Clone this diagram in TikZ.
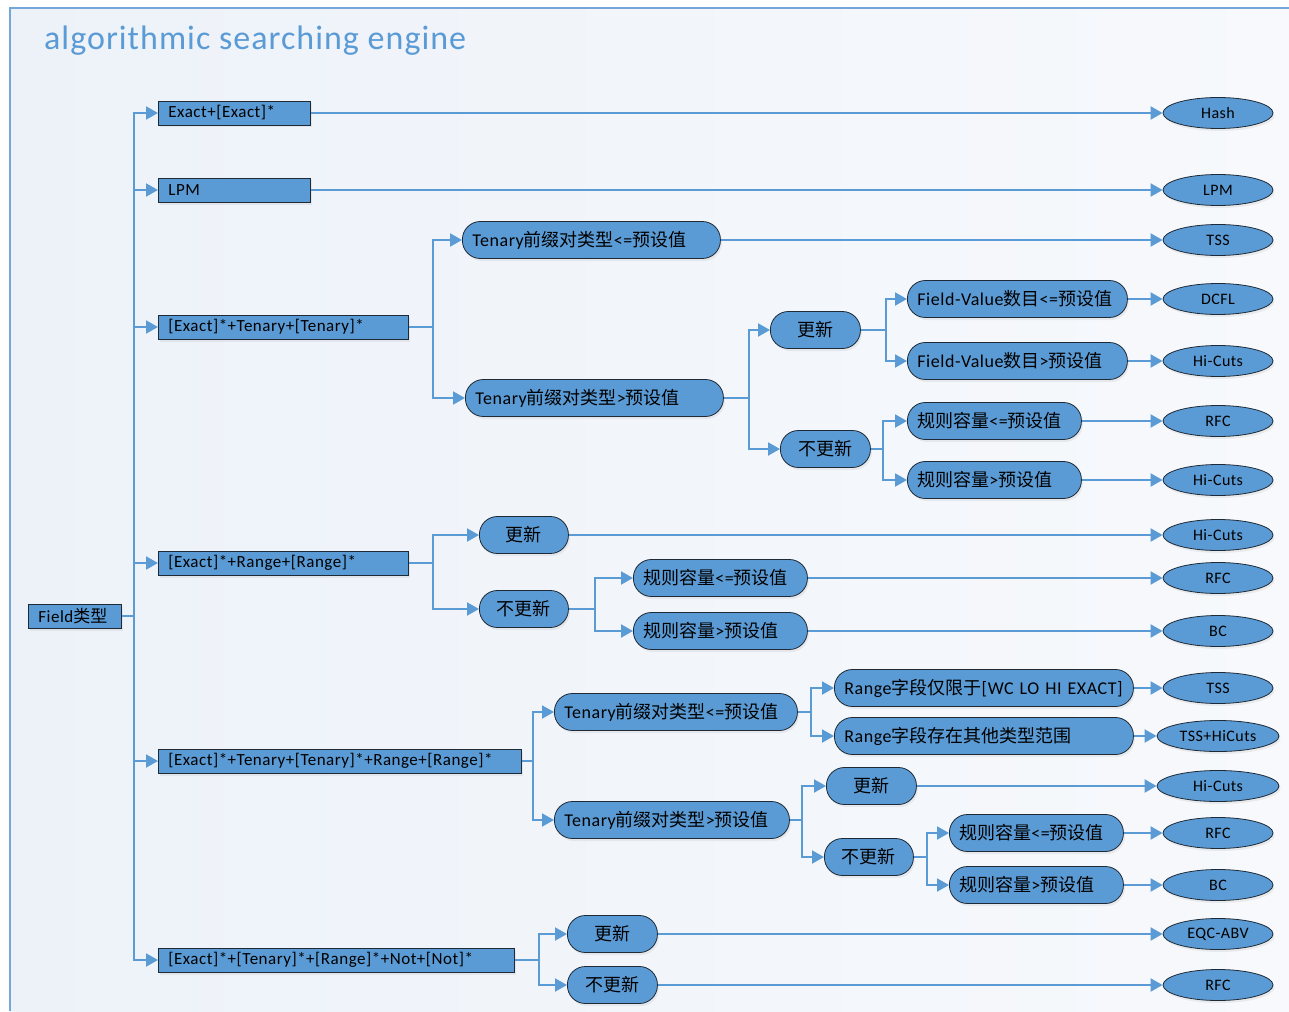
\documentclass[tikz,border=0pt]{standalone}
\usepackage{fontspec}
\setmainfont{Carlito}[LetterSpace=3]
\newfontfamily\cjk{Noto Sans CJK SC}
\usetikzlibrary{arrows.meta,shapes.geometric,shadows}
\definecolor{flow}{HTML}{5B9BD5}
\definecolor{edge}{HTML}{1E2A36}
\definecolor{frameline}{HTML}{74A6D9}
\definecolor{panelL}{HTML}{EDF2F9}
\definecolor{panelR}{HTML}{F7F9FC}
\newcommand\rfont{\fontsize{17}{20}\selectfont}
\newcommand\pfont{\fontsize{18}{21}\selectfont}
\newcommand\efont{\fontsize{16}{19}\selectfont}
\tikzset{
  softshadow/.style={drop shadow={opacity=0.12,shadow xshift=1.5pt,shadow yshift=-2.5pt}},
  rectbox/.style={draw=edge, fill=flow, line width=0.8pt, minimum height=24pt,
    inner xsep=10pt, inner ysep=0pt, align=left, anchor=west, font=\rfont, softshadow},
  pill/.style={draw=edge, fill=flow, line width=0.8pt, rounded corners=18pt,
    minimum height=37pt, inner xsep=10pt, inner ysep=0pt, align=left, anchor=west,
    font=\pfont, softshadow},
  cpill/.style={pill, align=center},
  oval/.style={ellipse, draw=edge, fill=flow, line width=0.8pt, minimum width=110pt,
    minimum height=31pt, inner sep=0pt, font=\efont, softshadow},
  link/.style={draw=flow, line width=2pt, -{Triangle[length=12pt,width=13pt]}},
}
\begin{document}
\begin{tikzpicture}[x=1pt,y=-1pt]
\useasboundingbox (0,0) rectangle (1289,1011);
% backdrop panel
\fill[white] (0,0) rectangle (1289,1011);
\fill[left color=panelL, right color=panelR] (10,8) rectangle (1289,1011);
\draw[frameline, line width=1.5pt] (10,1011) -- (10,8) -- (1289,8);
\node[anchor=base west, inner sep=0pt, text=flow, font=\fontsize{34}{38}\selectfont] (title) at (44,50) {algorithmic searching engine};

% root
\node[rectbox, text width=73pt] (r0) at (28,616) {Field{\cjk 类型}};

% first level
\node[rectbox, text width=132pt] (a1) at (158,113) {Exact+[Exact]*};
\node[rectbox, text width=132pt] (a2) at (158,190) {LPM};
\node[rectbox, text width=230pt] (a3) at (158,327) {[Exact]*+Tenary+[Tenary]*};
\node[rectbox, text width=230pt] (a4) at (158,563) {[Exact]*+Range+[Range]*};
\node[rectbox, text width=343pt] (a5) at (158,761) {[Exact]*+Tenary+[Tenary]*+Range+[Range]*};
\node[rectbox, text width=336pt] (a6) at (158,960) {[Exact]*+[Tenary]*+[Range]*+Not+[Not]*};

% Tenary branch
\node[pill, text width=238pt] (b1) at (462,240) {Tenary{\cjk 前缀对类型}<={\cjk 预设值}};
\node[pill, text width=238pt] (b2) at (465,398) {Tenary{\cjk 前缀对类型}>{\cjk 预设值}};
\node[cpill, text width=70pt] (b3) at (770,330) {\cjk 更新};
\node[cpill, text width=70pt] (b4) at (780,449) {\cjk 不更新};
\node[pill, text width=200pt] (b5) at (907,299) {Field-Value{\cjk 数目}<={\cjk 预设值}};
\node[pill, text width=200pt] (b6) at (907,361) {Field-Value{\cjk 数目}>{\cjk 预设值}};
\node[pill, text width=154pt] (b7) at (907,421) {{\cjk 规则容量}<={\cjk 预设值}};
\node[pill, text width=154pt] (b8) at (907,480) {{\cjk 规则容量}>{\cjk 预设值}};

% Range branch
\node[cpill, text width=69pt] (c1) at (479,535) {\cjk 更新};
\node[cpill, text width=69pt] (c2) at (479,609) {\cjk 不更新};
\node[pill, text width=154pt] (c3) at (633,578) {{\cjk 规则容量}<={\cjk 预设值}};
\node[pill, text width=154pt] (c4) at (633,631) {{\cjk 规则容量}>{\cjk 预设值}};

% Tenary + Range branch
\node[pill, text width=223pt] (d1) at (554,712) {Tenary{\cjk 前缀对类型}<={\cjk 预设值}};
\node[pill, text width=215pt] (d2) at (554,820) {Tenary{\cjk 前缀对类型}>{\cjk 预设值}};
\node[pill, text width=279pt] (d3) at (834,688) {Range{\cjk 字段仅限于}[WC LO HI EXACT]};
\node[pill, text width=279pt] (d4) at (834,736) {Range{\cjk 字段存在其他类型范围}};
\node[cpill, text width=70pt] (d5) at (826,786) {\cjk 更新};
\node[cpill, text width=69pt] (d6) at (824,857) {\cjk 不更新};
\node[pill, text width=154pt] (d7) at (949,833) {{\cjk 规则容量}<={\cjk 预设值}};
\node[pill, text width=154pt] (d8) at (949,885) {{\cjk 规则容量}>{\cjk 预设值}};

% Not branch
\node[cpill, text width=70pt] (f1) at (567,934) {\cjk 更新};
\node[cpill, text width=70pt] (f2) at (567,985) {\cjk 不更新};

% algorithms
\node[oval] (e1) at (1218,113) {Hash};
\node[oval] (e2) at (1218,190) {LPM};
\node[oval] (e3) at (1218,240) {TSS};
\node[oval] (e4) at (1218,299) {DCFL};
\node[oval] (e5) at (1218,361) {Hi-Cuts};
\node[oval] (e6) at (1218,421) {RFC};
\node[oval] (e7) at (1218,480) {Hi-Cuts};
\node[oval] (e8) at (1218,535) {Hi-Cuts};
\node[oval] (e9) at (1218,578) {RFC};
\node[oval] (e10) at (1218,631) {BC};
\node[oval] (e11) at (1218,688) {TSS};
\node[oval, minimum width=122pt] (e12) at (1218,736) {TSS+HiCuts};
\node[oval, minimum width=122pt] (e13) at (1218,786) {Hi-Cuts};
\node[oval] (e14) at (1218,833) {RFC};
\node[oval] (e15) at (1218,885) {BC};
\node[oval] (e16) at (1218,934) {EQC-ABV};
\node[oval] (e17) at (1218,985) {RFC};

% trunk
\foreach \n in {a1,a2,a3,a4,a5,a6}
  \draw[link] (r0.east) -- ++(12,0) |- (\n.west);

\draw[link] (a1.east) -- (e1.west);
\draw[link] (a2.east) -- (e2.west);

\foreach \n in {b1,b2} \draw[link] (a3.east) -- ++(24,0) |- (\n.west);
\draw[link] (b1.east) -- (e3.west);
\foreach \n in {b3,b4} \draw[link] (b2.east) -- ++(25,0) |- (\n.west);
\foreach \n in {b5,b6} \draw[link] (b3.east) -- ++(25,0) |- (\n.west);
\foreach \n in {b7,b8} \draw[link] (b4.east) -- ++(12,0) |- (\n.west);
\draw[link] (b5.east) -- (e4.west);
\draw[link] (b6.east) -- (e5.west);
\draw[link] (b7.east) -- (e6.west);
\draw[link] (b8.east) -- (e7.west);

\foreach \n in {c1,c2} \draw[link] (a4.east) -- ++(24,0) |- (\n.west);
\draw[link] (c1.east) -- (e8.west);
\foreach \n in {c3,c4} \draw[link] (c2.east) -- ++(26,0) |- (\n.west);
\draw[link] (c3.east) -- (e9.west);
\draw[link] (c4.east) -- (e10.west);

\foreach \n in {d1,d2} \draw[link] (a5.east) -- ++(11,0) |- (\n.west);
\foreach \n in {d3,d4} \draw[link] (d1.east) -- ++(13,0) |- (\n.west);
\foreach \n in {d5,d6} \draw[link] (d2.east) -- ++(12,0) |- (\n.west);
\foreach \n in {d7,d8} \draw[link] (d6.east) -- ++(13,0) |- (\n.west);
\draw[link] (d3.east) -- (e11.west);
\draw[link] (d4.east) -- (e12.west);
\draw[link] (d5.east) -- (e13.west);
\draw[link] (d7.east) -- (e14.west);
\draw[link] (d8.east) -- (e15.west);

\foreach \n in {f1,f2} \draw[link] (a6.east) -- ++(24,0) |- (\n.west);
\draw[link] (f1.east) -- (e16.west);
\draw[link] (f2.east) -- (e17.west);
\end{tikzpicture}
\end{document}
